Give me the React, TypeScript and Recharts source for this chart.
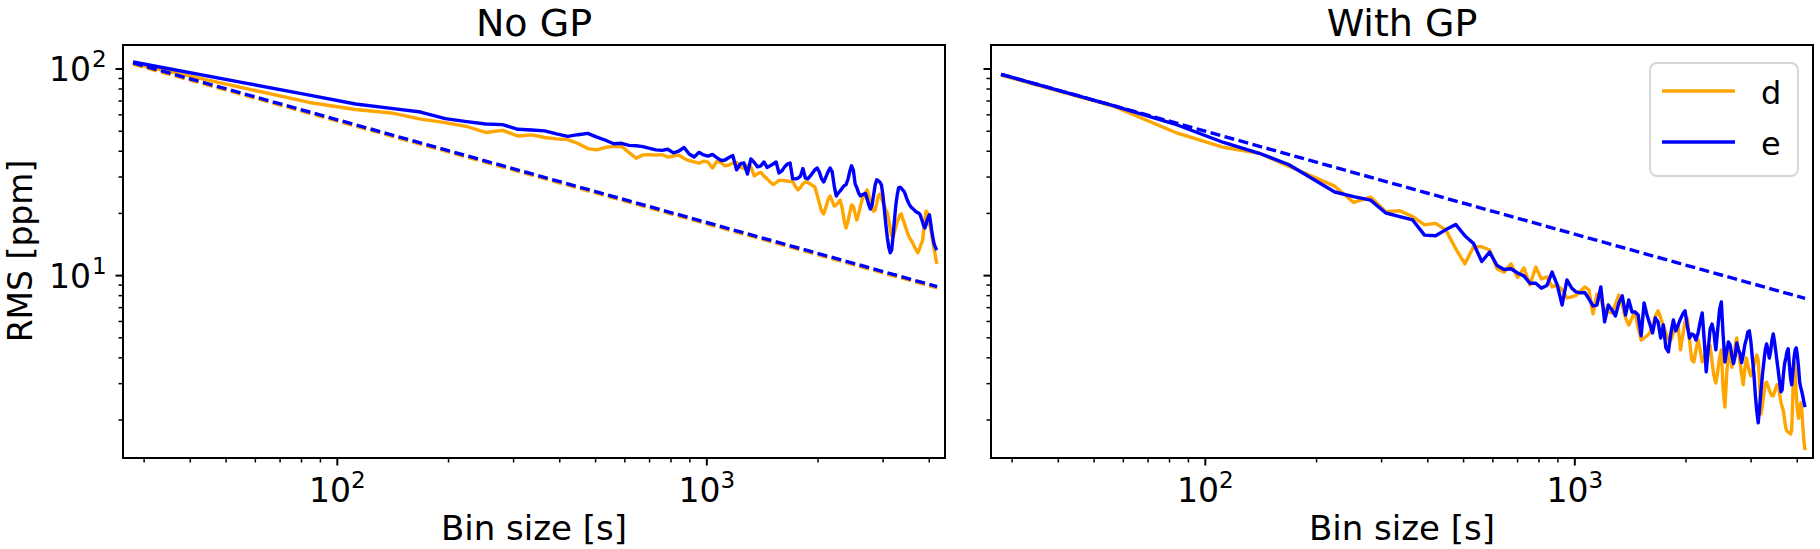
import { LineChart, Line, XAxis, YAxis } from "recharts"

// bin sizes in seconds (28 s steps)
const binSizes = [
  28, 56, 84, 112, 140, 168, 196, 224, 252, 280,
  308, 336, 364, 392, 420, 448, 476, 504, 532, 560,
  588, 616, 644, 672, 700, 728, 756, 784, 812, 840,
  868, 896, 924, 952, 980, 1008, 1036, 1064, 1092, 1120,
  1148, 1176, 1204, 1232, 1260, 1288, 1316, 1344, 1372, 1400,
  1428, 1456, 1484, 1512, 1540, 1568, 1596, 1624, 1652, 1680,
  1708, 1736, 1764, 1792, 1820, 1848, 1876, 1904, 1932, 1960,
  1988, 2016, 2044, 2072, 2100, 2128, 2156, 2184, 2212, 2240,
  2268, 2296, 2324, 2352, 2380, 2408, 2436, 2464, 2492, 2520,
  2548, 2576, 2604, 2632, 2660, 2688, 2716, 2744, 2772, 2800,
  2828, 2856, 2884, 2912, 2940, 2968, 2996, 3024, 3052, 3080,
  3108, 3136, 3164, 3192, 3220, 3248, 3276, 3304, 3332, 3360,
  3388, 3416, 3444, 3472, 3500, 3528, 3556, 3584, 3612, 3640,
  3668, 3696, 3724, 3752, 3780, 3808, 3836, 3864, 3892, 3920,
  3948, 3976, 4004, 4032, 4060, 4088, 4116, 4144, 4172, 4200,
]

// RMS [ppm], no GP
const noGpD = [
  106.3, 80.8, 68.9, 63.7, 61.3, 57.2, 55.0, 52.7, 49.3, 50.5,
  47.4, 48.0, 46.6, 45.9, 45.5, 43.6, 41.2, 40.6, 41.8, 42.2,
  42.3, 39.4, 37.0, 38.4, 38.5, 38.3, 38.5, 37.5, 37.9, 38.3,
  36.9, 36.0, 35.5, 35.0, 35.8, 35.4, 33.2, 35.7, 35.3, 34.0,
  34.3, 35.1, 35.3, 33.5, 33.0, 34.2, 33.6, 30.4, 31.2, 31.6,
  30.3, 29.4, 28.4, 27.6, 28.2, 28.9, 28.9, 28.8, 28.7, 28.6,
  28.5, 27.1, 26.0, 26.7, 27.8, 28.4, 28.2, 27.8, 27.3, 26.9,
  24.6, 22.5, 20.5, 19.9, 21.4, 23.3, 24.3, 23.0, 21.7, 22.0,
  22.6, 23.2, 21.3, 18.6, 17.0, 18.2, 20.1, 22.0, 21.7, 19.9,
  18.6, 19.9, 21.7, 23.3, 24.3, 25.1, 26.0, 24.3, 22.5, 21.7,
  20.5, 20.8, 22.5, 24.3, 24.8, 23.7, 22.7, 21.7, 20.8, 20.1,
  18.6, 17.0, 15.5, 15.3, 16.3, 17.2, 18.2, 18.9, 19.7, 19.9,
  18.9, 18.2, 17.4, 16.6, 15.9, 15.4, 15.0, 14.7, 14.3, 13.9,
  13.5, 13.2, 12.9, 13.3, 13.8, 14.3, 14.7, 16.6, 18.6, 20.5,
  20.3, 18.9, 17.8, 17.0, 15.9, 14.7, 13.6, 12.8, 11.9, 11.4,
]
const noGpE = [
  108.1, 85.7, 74.7, 67.7, 64.5, 61.9, 57.5, 55.6, 54.2, 53.8,
  51.1, 50.7, 50.2, 48.5, 47.2, 48.1, 48.8, 46.8, 45.2, 43.5,
  43.7, 42.7, 42.5, 42.1, 41.3, 40.6, 40.4, 40.9, 39.3, 40.1,
  41.7, 38.8, 37.5, 39.5, 38.4, 37.9, 38.6, 37.3, 36.1, 36.3,
  37.3, 38.1, 32.5, 34.7, 35.1, 31.0, 36.7, 35.3, 33.6, 34.0,
  35.5, 33.4, 34.0, 34.7, 35.5, 31.4, 32.1, 33.6, 34.7, 35.1,
  29.4, 29.4, 29.6, 30.3, 33.0, 29.7, 29.4, 30.3, 31.4, 32.5,
  33.2, 31.8, 29.4, 28.4, 30.0, 31.8, 33.2, 31.8, 27.2, 24.3,
  25.1, 25.7, 26.5, 27.2, 27.5, 29.1, 31.8, 34.0, 32.5, 27.8,
  26.6, 25.1, 24.3, 24.6, 24.8, 25.0, 23.5, 22.0, 21.0, 22.0,
  24.6, 27.5, 29.1, 28.8, 28.4, 27.5, 24.6, 20.8, 17.6, 15.3,
  13.7, 12.9, 13.3, 15.5, 18.6, 22.0, 24.6, 26.6, 26.8, 26.5,
  26.0, 25.6, 24.8, 23.7, 22.9, 22.2, 21.7, 21.3, 21.1, 20.8,
  20.5, 20.3, 20.2, 20.0, 19.7, 18.9, 18.2, 17.4, 17.0, 17.6,
  18.6, 19.2, 19.7, 18.2, 16.6, 15.4, 14.4, 13.9, 13.5, 13.3,
]

// RMS [ppm], with GP
const gpD = [
  93.5, 66.4, 48.9, 41.8, 39.1, 33.9, 30.1, 27.1, 22.6, 24.0,
  20.4, 20.6, 19.3, 17.6, 17.9, 16.6, 13.5, 11.4, 13.8, 13.8,
  13.3, 10.8, 10.4, 11.4, 9.8, 10.9, 9.02, 11.0, 9.64, 9.86,
  8.82, 9.02, 8.52, 7.8, 7.88, 8.03, 8.43, 8.82, 8.52, 6.53,
  8.13, 7.63, 6.82, 6.67, 6.6, 7.28, 8.06, 7.21, 6.24, 5.77,
  6.24, 6.67, 5.59, 4.88, 4.99, 5.11, 5.28, 5.77, 6.38, 6.75,
  6.24, 5.71, 5.28, 4.88, 4.88, 5.28, 5.59, 5.71, 4.37, 5.16,
  5.97, 6.24, 4.88, 3.91, 3.82, 4.37, 4.88, 4.37, 3.82, 3.99,
  4.37, 4.62, 4.57, 3.82, 3.27, 3.02, 3.42, 3.99, 4.37, 2.8,
  2.31, 3.31, 4.28, 4.13, 3.6, 3.91, 4.57, 4.99, 4.37, 3.82,
  3.31, 2.96, 3.5, 3.99, 3.7, 3.42, 3.27, 3.42, 3.66, 3.91,
  4.13, 3.91, 2.96, 2.14, 2.37, 2.68, 3.0, 3.05, 2.93, 2.8,
  2.7, 2.62, 2.62, 2.74, 2.87, 2.96, 2.93, 2.65, 2.45, 2.31,
  2.22, 2.0, 1.83, 1.77, 1.75, 1.73, 1.71, 1.79, 2.65, 3.82,
  3.5, 2.65, 2.21, 2.04, 2.24, 2.42, 2.21, 1.83, 1.56, 1.43,
]
const gpE = [
  94.3, 66.7, 53.6, 44.1, 39.1, 34.5, 29.3, 25.4, 24.1, 23.2,
  20.1, 19.3, 18.6, 15.7, 15.6, 16.7, 17.7, 15.6, 14.3, 11.7,
  13.0, 11.2, 10.7, 10.8, 10.3, 9.97, 9.19, 9.19, 8.7, 8.95,
  10.4, 9.02, 7.21, 9.53, 8.72, 8.34, 8.25, 8.29, 7.72, 7.14,
  7.21, 8.82, 5.97, 7.21, 6.82, 6.38, 7.38, 7.98, 6.45, 7.63,
  6.67, 6.67, 6.45, 5.11, 7.38, 6.45, 5.83, 5.28, 6.24, 5.97,
  4.99, 5.77, 4.47, 4.28, 5.28, 6.1, 5.4, 5.77, 6.17, 6.53,
  6.75, 5.71, 4.99, 5.22, 5.16, 4.88, 5.28, 5.97, 6.6, 4.88,
  3.42, 4.37, 5.52, 5.83, 5.28, 4.37, 5.46, 6.82, 7.46, 5.16,
  3.82, 4.28, 4.78, 4.62, 4.13, 3.75, 4.08, 4.72, 4.37, 4.2,
  3.79, 4.13, 4.62, 4.93, 5.34, 5.4, 4.78, 3.99, 3.37, 2.65,
  2.21, 1.94, 2.31, 2.8, 3.31, 3.82, 4.37, 4.67, 4.37, 3.99,
  4.28, 4.88, 5.22, 4.78, 4.28, 3.82, 3.42, 3.05, 2.74, 2.8,
  3.31, 3.75, 3.99, 4.28, 4.42, 3.7, 3.2, 2.96, 3.42, 3.99,
  4.37, 4.47, 4.08, 3.6, 3.05, 2.87, 2.74, 2.59, 2.42, 2.31,
]

// expected white-noise lines (dashed), end points only
const expBins = [28, 4200]
const noGpDExp = [105.5, 8.72]
const noGpEExp = [107, 8.85]
const gpEExp = [94.3, 7.76]

const xTicks = [30, 40, 50, 60, 70, 80, 90, 100, 200, 300, 400, 500, 600, 700, 800, 900, 1000, 2000, 3000, 4000]
const yTicks = [2, 3, 4, 5, 6, 7, 8, 9, 10, 20, 30, 40, 50, 60, 70, 80, 90, 100]
const xMajor: Record<number, string> = { 100: "2", 1000: "3" }
const yMajor: Record<number, string> = { 10: "1", 100: "2" }

const ORANGE = "#ffa500"
const BLUE = "#0000ff"
const FONT = "'DejaVu Sans', sans-serif"
const LW = 3.4

const PLOT_TOP = 45
const PLOT_H = 413
const PLOT_W = 822
const LEFT_X = 123
const RIGHT_X = 991

const pts = (ys: number[], xs: number[] = binSizes) => ys.map((y, i) => ({ x: xs[i], y }))

function XTick(props: any) {
  const { x, y, payload } = props
  const sup = xMajor[payload.value]
  return (
    <g>
      <line x1={x} x2={x} y1={y} y2={y + (sup ? 7.5 : 4.5)} stroke="#000" strokeWidth={sup ? 2 : 1.5} />
      {sup && (
        <text x={x} y={y + 44} textAnchor="middle" fontSize={33} fontFamily={FONT} fill="#000">
          10<tspan dy={-14} fontSize={23}>{sup}</tspan>
        </text>
      )}
    </g>
  )
}

function YTick(props: any) {
  const { x, y, payload, showLabel } = props
  const sup = yMajor[payload.value]
  return (
    <g>
      <line x1={x - (sup ? 7.5 : 4.5)} x2={x} y1={y} y2={y} stroke="#000" strokeWidth={sup ? 2 : 1.5} />
      {showLabel && sup && (
        <text x={x - 32} y={y + 12} textAnchor="end" fontSize={33} fontFamily={FONT} fill="#000">
          10
        </text>
      )}
      {showLabel && sup && (
        <text x={x - 31} y={y - 2} textAnchor="start" fontSize={23} fontFamily={FONT} fill="#000">
          {sup}
        </text>
      )}
    </g>
  )
}

type Series = { data: { x: number; y: number }[]; color: string; dashed?: boolean }

function Panel({ left, width, axisW, series, showLabel }: {
  left: number
  width: number
  axisW: number
  series: Series[]
  showLabel: boolean
}) {
  return (
    <div style={{ position: "absolute", left, top: 0 }}>
      <LineChart
        width={width}
        height={549}
        margin={{ top: PLOT_TOP, right: width - axisW - PLOT_W, bottom: 0, left: 0 }}
      >
        <XAxis
          dataKey="x"
          type="number"
          scale="log"
          domain={[26.3, 4412]}
          allowDataOverflow
          ticks={xTicks}
          interval={0}
          height={549 - PLOT_TOP - PLOT_H}
          axisLine={false}
          tickLine={false}
          tickSize={0}
          tickMargin={0}
          tick={(p: any) => <XTick {...p} />}
        />
        <YAxis
          type="number"
          scale="log"
          domain={[1.31, 130.7]}
          allowDataOverflow
          ticks={yTicks}
          interval={0}
          width={axisW}
          axisLine={false}
          tickLine={false}
          tickSize={0}
          tickMargin={0}
          tick={(p: any) => <YTick {...p} showLabel={showLabel} />}
        />
        {series.map((s, i) => (
          <Line
            key={i}
            data={s.data}
            dataKey="y"
            type="linear"
            stroke={s.color}
            strokeWidth={LW}
            strokeDasharray={s.dashed ? "10 4.5" : undefined}
            strokeLinejoin="round"
            dot={false}
            activeDot={false}
            isAnimationActive={false}
          />
        ))}
      </LineChart>
    </div>
  )
}

export default function App() {
  const leftSeries: Series[] = [
    { data: pts(noGpD), color: ORANGE },
    { data: pts(noGpDExp, expBins), color: ORANGE, dashed: true },
    { data: pts(noGpE), color: BLUE },
    { data: pts(noGpEExp, expBins), color: BLUE, dashed: true },
  ]
  const rightSeries: Series[] = [
    { data: pts(gpD), color: ORANGE },
    { data: pts(gpE), color: BLUE },
    { data: pts(gpEExp, expBins), color: BLUE, dashed: true },
  ]
  return (
    <div style={{ position: "absolute", left: 0, top: 0, width: 1820, height: 549, background: "#fff" }}>
      <Panel left={0} width={960} axisW={LEFT_X} series={leftSeries} showLabel />
      <Panel left={960} width={860} axisW={RIGHT_X - 960} series={rightSeries} showLabel={false} />
      <svg
        width={1820}
        height={549}
        style={{ position: "absolute", left: 0, top: 0, pointerEvents: "none" }}
        fontFamily={FONT}
      >
        <rect x={LEFT_X} y={PLOT_TOP} width={PLOT_W} height={PLOT_H} fill="none" stroke="#000" strokeWidth={2} />
        <rect x={RIGHT_X} y={PLOT_TOP} width={PLOT_W} height={PLOT_H} fill="none" stroke="#000" strokeWidth={2} />
        <text x={LEFT_X + PLOT_W / 2} y={36} textAnchor="middle" fontSize={38}>No GP</text>
        <text x={RIGHT_X + PLOT_W / 2} y={36} textAnchor="middle" fontSize={38}>With GP</text>
        <text x={LEFT_X + PLOT_W / 2} y={540} textAnchor="middle" fontSize={34}>Bin size [s]</text>
        <text x={RIGHT_X + PLOT_W / 2} y={540} textAnchor="middle" fontSize={34}>Bin size [s]</text>
        <text x={32} y={251} textAnchor="middle" fontSize={33} transform="rotate(-90 32 251)">RMS [ppm]</text>
        <rect x={1650} y={63} width={148} height={113} rx={7} fill="#fff" fillOpacity={0.8} stroke="#d6d6d6" strokeWidth={2} />
        <line x1={1662} x2={1735} y1={91} y2={91} stroke={ORANGE} strokeWidth={LW} />
        <line x1={1662} x2={1735} y1={142} y2={142} stroke={BLUE} strokeWidth={LW} />
        <text x={1761} y={104} fontSize={32}>d</text>
        <text x={1761} y={155} fontSize={32}>e</text>
      </svg>
    </div>
  )
}
